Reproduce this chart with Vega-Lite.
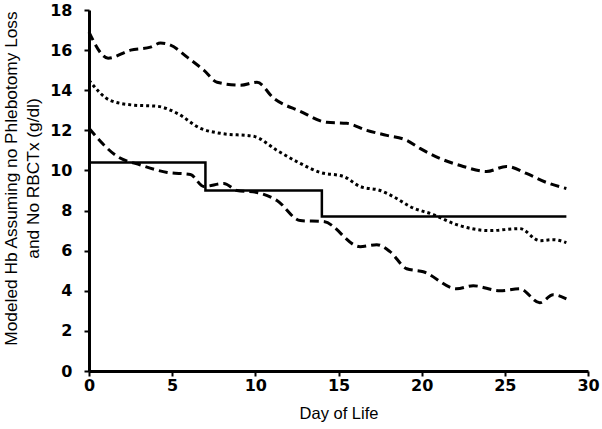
{
  "$schema": "https://vega.github.io/schema/vega-lite/v6.json",
  "width": 499,
  "height": 361,
  "autosize": {"type": "none"},
  "padding": {"left": 89, "top": 10, "right": 14, "bottom": 58},
  "background": "white",
  "config": {
    "view": {"stroke": null},
    "axis": {
      "grid": false,
      "domainColor": "black",
      "domainWidth": 3,
      "tickColor": "black",
      "tickWidth": 2,
      "tickSize": 5,
      "labelFont": "DejaVu Sans",
      "labelFontWeight": "bold",
      "labelFontSize": 16,
      "labelColor": "black",
      "labelFlush": false,
      "labelOverlap": false,
      "titleFont": "Liberation Sans",
      "titleFontWeight": "normal",
      "titleFontSize": 16.5,
      "titleColor": "black"
    }
  },
  "datasets": {
    "curves": [
      {"series": "upper", "day": 0, "hb": 16.9},
      {"series": "upper", "day": 1.15, "hb": 15.6},
      {"series": "upper", "day": 2.5, "hb": 16.0},
      {"series": "upper", "day": 3.7, "hb": 16.15},
      {"series": "upper", "day": 4.3, "hb": 16.35},
      {"series": "upper", "day": 4.9, "hb": 16.25},
      {"series": "upper", "day": 5.9, "hb": 15.65},
      {"series": "upper", "day": 6.9, "hb": 15.0},
      {"series": "upper", "day": 7.7, "hb": 14.4},
      {"series": "upper", "day": 9.1, "hb": 14.25},
      {"series": "upper", "day": 10.1, "hb": 14.4},
      {"series": "upper", "day": 11.1, "hb": 13.6},
      {"series": "upper", "day": 12.7, "hb": 12.95},
      {"series": "upper", "day": 14.3, "hb": 12.4},
      {"series": "upper", "day": 15.5, "hb": 12.35},
      {"series": "upper", "day": 16.7, "hb": 12.0},
      {"series": "upper", "day": 17.9, "hb": 11.75},
      {"series": "upper", "day": 19.1, "hb": 11.5},
      {"series": "upper", "day": 19.9, "hb": 11.1},
      {"series": "upper", "day": 21.1, "hb": 10.6},
      {"series": "upper", "day": 22.5, "hb": 10.2},
      {"series": "upper", "day": 23.9, "hb": 9.95},
      {"series": "upper", "day": 25.1, "hb": 10.2},
      {"series": "upper", "day": 26.3, "hb": 9.85},
      {"series": "upper", "day": 27.5, "hb": 9.4},
      {"series": "upper", "day": 28.7, "hb": 9.1},
      {"series": "middle", "day": 0, "hb": 14.5},
      {"series": "middle", "day": 1.26, "hb": 13.5},
      {"series": "middle", "day": 2.65, "hb": 13.26},
      {"series": "middle", "day": 4.1, "hb": 13.2},
      {"series": "middle", "day": 5.3, "hb": 12.85},
      {"series": "middle", "day": 6.7, "hb": 12.1},
      {"series": "middle", "day": 7.9, "hb": 11.85},
      {"series": "middle", "day": 9.9, "hb": 11.7},
      {"series": "middle", "day": 11.3, "hb": 11.0},
      {"series": "middle", "day": 12.7, "hb": 10.35},
      {"series": "middle", "day": 13.9, "hb": 9.9},
      {"series": "middle", "day": 15.3, "hb": 9.7},
      {"series": "middle", "day": 16.3, "hb": 9.2},
      {"series": "middle", "day": 17.5, "hb": 9.0},
      {"series": "middle", "day": 18.5, "hb": 8.6},
      {"series": "middle", "day": 19.3, "hb": 8.2},
      {"series": "middle", "day": 20.7, "hb": 7.8},
      {"series": "middle", "day": 22.1, "hb": 7.3},
      {"series": "middle", "day": 24.1, "hb": 7.0},
      {"series": "middle", "day": 25.9, "hb": 7.1},
      {"series": "middle", "day": 27.1, "hb": 6.5},
      {"series": "middle", "day": 27.9, "hb": 6.55},
      {"series": "middle", "day": 28.7, "hb": 6.4},
      {"series": "lower", "day": 0, "hb": 12.1},
      {"series": "lower", "day": 1.7, "hb": 10.7},
      {"series": "lower", "day": 3.1, "hb": 10.27},
      {"series": "lower", "day": 4.7, "hb": 9.9},
      {"series": "lower", "day": 6.1, "hb": 9.8},
      {"series": "lower", "day": 6.9, "hb": 9.2},
      {"series": "lower", "day": 8.1, "hb": 9.35},
      {"series": "lower", "day": 8.9, "hb": 9.0},
      {"series": "lower", "day": 10.1, "hb": 8.9},
      {"series": "lower", "day": 11.3, "hb": 8.5},
      {"series": "lower", "day": 12.7, "hb": 7.5},
      {"series": "lower", "day": 14.1, "hb": 7.45},
      {"series": "lower", "day": 16.3, "hb": 6.2},
      {"series": "lower", "day": 17.3, "hb": 6.3},
      {"series": "lower", "day": 18.1, "hb": 5.95},
      {"series": "lower", "day": 19.1, "hb": 5.1},
      {"series": "lower", "day": 20.1, "hb": 4.95},
      {"series": "lower", "day": 22.1, "hb": 4.1},
      {"series": "lower", "day": 23.1, "hb": 4.25},
      {"series": "lower", "day": 24.7, "hb": 4.0},
      {"series": "lower", "day": 25.9, "hb": 4.1},
      {"series": "lower", "day": 27.1, "hb": 3.4},
      {"series": "lower", "day": 27.9, "hb": 3.8},
      {"series": "lower", "day": 28.7, "hb": 3.6}
    ],
    "step": [
      {"day": 0, "hb": 10.4},
      {"day": 7, "hb": 9.0},
      {"day": 14, "hb": 7.7},
      {"day": 28.7, "hb": 7.7}
    ]
  },
  "encoding": {
    "x": {
      "field": "day", "type": "quantitative",
      "scale": {"domain": [0, 30], "nice": false},
      "axis": {"values": [0, 5, 10, 15, 20, 25, 30], "title": "Day of Life", "labelPadding": 1, "titlePadding": 12}
    },
    "y": {
      "field": "hb", "type": "quantitative",
      "scale": {"domain": [0, 18], "nice": false},
      "axis": {"values": [0, 2, 4, 6, 8, 10, 12, 14, 16, 18], "title": ["Modeled Hb Assuming no Phlebotomy Loss", "and No RBCTx (g/dl)"], "labelPadding": 12, "titlePadding": 7, "titleY": 168, "titleFontSize": 17.3, "titleLineHeight": 22}
    }
  },
  "layer": [
    {
      "data": {"name": "curves"},
      "transform": [{"filter": "datum.series !== 'middle'"}],
      "mark": {"type": "line", "color": "black", "strokeWidth": 3, "strokeDash": [9, 5], "interpolate": "monotone"},
      "encoding": {"detail": {"field": "series"}}
    },
    {
      "data": {"name": "curves"},
      "transform": [{"filter": "datum.series === 'middle'"}],
      "mark": {"type": "line", "color": "black", "strokeWidth": 3, "strokeDash": [3, 3], "interpolate": "monotone"},
      "encoding": {}
    },
    {
      "data": {"name": "step"},
      "mark": {"type": "line", "color": "black", "strokeWidth": 2.5, "interpolate": "step-after"},
      "encoding": {}
    }
  ]
}
